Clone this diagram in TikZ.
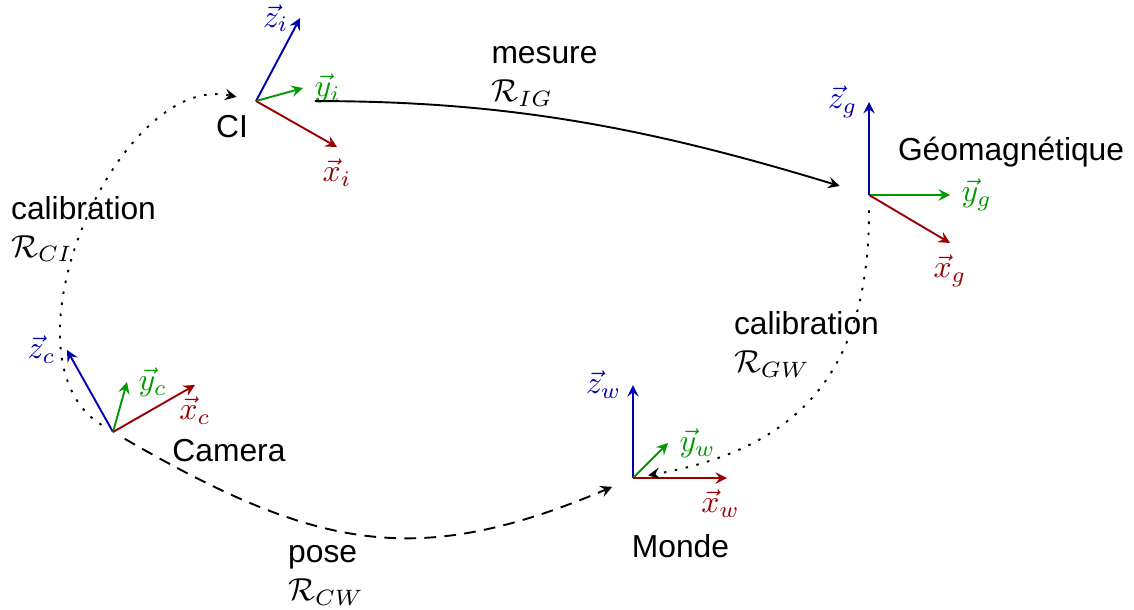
\documentclass[tikz,border=0pt]{standalone}
\usepackage{fontspec}
\setmainfont{Liberation Sans}
\definecolor{rouge}{rgb}{0.6,0,0}
\definecolor{vert}{rgb}{0,0.6,0}
\definecolor{bleu}{rgb}{0,0,0.7}
\begin{document}
\begin{tikzpicture}[
		axex/.style={semithick, -stealth, rouge},
		axey/.style={semithick, -stealth, vert},
		axez/.style={semithick, -stealth, bleu},
		lien/.style={semithick, -stealth},
	]
	\useasboundingbox (0,0) rectangle (12.544,6.737);
	
	% (I) CI
	\begin{scope}[shift={(2.832,5.619)}]
		\coordinate (I) at (0,0);
		\draw[axez] (I) -- (0.487,0.918) node[left] (zi) {$\vec{z}_i$};
		\draw[axey] (I) -- (0.52,0.144) node[right] (yi) {$\vec{y}_i$};
		\draw[axex] (I) -- (0.896,-0.509) node[below] (xi) {$\vec{x}_i$};
		\node (nI) at (-0.265,-0.282) {CI};
	\end{scope}
	
	% (C) Camera
	\begin{scope}[shift={(1.25,1.958)}]
		\coordinate (C) at (0,0);
		\draw[axez] (C) -- (-0.509,0.907) node[left] (zc) {$\vec{z}_c$};
		\draw[axey] (C) -- (0.155,0.553) node[right] (yc) {$\vec{y}_c$};
		\draw[axex] (C) -- (0.907,0.52) node[below] (xc) {$\vec{x}_c$};
		\node (nC) at (1.283,-0.21) {Camera};
	\end{scope}
	
	% (W) Monde
	\begin{scope}[shift={(7.002,1.449)}]
		\coordinate (W) at (0,0);
		\draw[axez] (W) -- (0,1.029) node[left] (zw) {$\vec{z}_w$};
		\draw[axey] (W) -- (0.387,0.387) node[right] (yw) {$\vec{y}_w$};
		\draw[axex] (W) -- (1.04,0) node[below, xshift=-2pt] (xw) {$\vec{x}_w$};
		\node (nW) at (0.525,-0.758) {Monde};
	\end{scope}
	
	% (G) Geomagnetique
	\begin{scope}[shift={(9.613,4.58)}]
		\coordinate (G) at (0,0);
		\draw[axez] (G) -- (0,1.029) node[left] (zg) {$\vec{z}_g$};
		\draw[axey] (G) -- (0.896,0) node[right] (yg) {$\vec{y}_g$};
		\draw[axex] (G) -- (0.896,-0.531) node[below] (xg) {$\vec{x}_g$};
		\node (nG) at (1.571,0.476) {Géomagnétique};
	\end{scope}
	
	% transformations
	\draw[lien, shorten <=0.65cm, shorten >=0.34cm] (I) to[out=0, in=163] (G);
	\node[align=left] (lIG) at (6.023,5.896) {mesure\\$\mathcal{R}_{IG}$};
	
	\draw[lien, dash pattern=on 0.8pt off 2.7pt, shorten <=0.15cm, shorten >=0.22cm] (C) to[out=148, in=168, looseness=1.0] (I);
	\node[align=left] (lCI) at (0.924,4.204) {calibration\\$\mathcal{R}_{CI}$};
	
	\draw[lien, dash pattern=on 0.8pt off 2.7pt, shorten <=0.17cm, shorten >=0.17cm] (G) to[out=-90, in=10, looseness=1.2] (W);
	\node[align=left] (lGW) at (8.921,2.931) {calibration\\$\mathcal{R}_{GW}$};
	
	\draw[lien, dash pattern=on 3.7pt off 2.6pt, shorten <=0.15cm, shorten >=0.25cm] (C) to[out=-30, in=-157, looseness=1.15] (W);
	\node[align=left] (lCW) at (3.606,0.376) {pose\\$\mathcal{R}_{CW}$};
\end{tikzpicture}
\end{document}
